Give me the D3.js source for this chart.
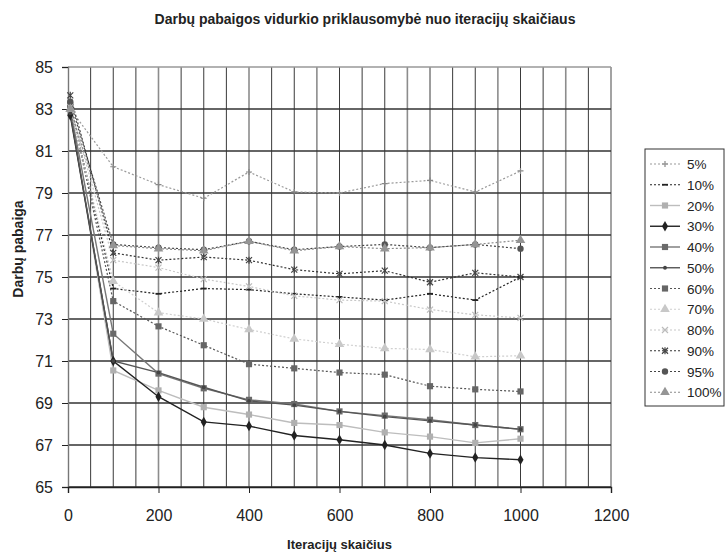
<!DOCTYPE html>
<html>
<head>
<meta charset="utf-8">
<script src="https://cdn.jsdelivr.net/npm/d3@7"></script>
<style>
  body { margin: 0; background: #fff; }
  text { font-family: "Liberation Sans", Arial, sans-serif; }
</style>
</head>
<body>
<div id="chart"></div>
<script>
// data
var iterations = [5, 100, 200, 300, 400, 500, 600, 700, 800, 900, 1000];
var labels = ["5%", "10%", "20%", "30%", "40%", "50%", "60%", "70%", "80%", "90%", "95%", "100%"];

var s5   = [83.0, 80.25, 79.4, 78.75, 80.0, 79.05, 79.0, 79.45, 79.6, 79.05, 80.05];
var s10  = [83.2, 74.45, 74.2, 74.45, 74.4, 74.2, 74.05, 73.9, 74.2, 73.9, 75.0];
var s20  = [82.9, 70.55, 69.6, 68.8, 68.45, 68.05, 67.95, 67.6, 67.4, 67.1, 67.3];
var s30  = [82.7, 71.0, 69.3, 68.1, 67.9, 67.45, 67.25, 67.0, 66.6, 66.4, 66.3];
var s40  = [83.0, 72.3, 70.4, 69.7, 69.15, 68.95, 68.6, 68.4, 68.2, 67.95, 67.75];
var s50  = [82.8, 71.0, 70.45, 69.75, 69.1, 68.9, 68.6, 68.35, 68.15, 67.95, 67.75];
var s60  = [83.2, 73.85, 72.65, 71.75, 70.85, 70.65, 70.45, 70.35, 69.8, 69.65, 69.55];
var s70  = [83.0, 74.8, 73.3, 73.0, 72.5, 72.05, 71.8, 71.6, 71.55, 71.2, 71.25];
var s80  = [83.1, 75.8, 75.45, 74.9, 74.55, 74.1, 73.9, 73.85, 73.45, 73.2, 73.05];
var s90  = [83.65, 76.15, 75.8, 75.95, 75.8, 75.35, 75.15, 75.3, 74.75, 75.2, 75.0];
var s95  = [83.35, 76.55, 76.4, 76.3, 76.7, 76.3, 76.45, 76.55, 76.4, 76.55, 76.35];
var s100 = [83.0, 76.5, 76.35, 76.25, 76.7, 76.25, 76.45, 76.35, 76.4, 76.55, 76.75];

var xTicks = [0, 200, 400, 600, 800, 1000, 1200];
var yTicks = [65, 67, 69, 71, 73, 75, 77, 79, 81, 83, 85];

// the scan shows some vertical grid lines lighter than others
var lightGrid = [200, 400, 550, 750, 950, 1100, 1200];

// line / marker styles for each series
var styles = [
  {line: "#9a9a9a", dash: "2,2", marker: "plus",     mcol: "#888"},
  {line: "#222",    dash: "2,2", marker: "dash",     mcol: "#222"},
  {line: "#bdbdbd", dash: null,  marker: "square",   mcol: "#b0b0b0"},
  {line: "#222",    dash: null,  marker: "diamond",  mcol: "#222"},
  {line: "#777",    dash: null,  marker: "square",   mcol: "#6a6a6a"},
  {line: "#555",    dash: null,  marker: "dot",      mcol: "#444"},
  {line: "#555",    dash: "2,2", marker: "square",   mcol: "#666"},
  {line: "#cfcfcf", dash: "2,2", marker: "triangle", mcol: "#c8c8c8"},
  {line: "#c8c8c8", dash: "2,2", marker: "cross",    mcol: "#bbb"},
  {line: "#333",    dash: "2,2", marker: "star",     mcol: "#444"},
  {line: "#444",    dash: "2,2", marker: "circle",   mcol: "#555"},
  {line: "#8a8a8a", dash: "2,2", marker: "triangle", mcol: "#959595"}
];
var seriesValues = [s5, s10, s20, s30, s40, s50, s60, s70, s80, s90, s95, s100];
var series = labels.map(function(l, i) {
  return {name: l, style: styles[i], values: seriesValues[i].map(function(v, j) { return {x: iterations[j], y: v}; })};
});

var margin = {top: 67, left: 68},
    width = 543,
    height = 420;

var svg = d3.select("#chart")
  .append("svg")
    .attr("width", 726)
    .attr("height", 552);

var g = svg.append("g")
  .attr("transform", "translate(" + margin.left + "," + margin.top + ")");

var x = d3.scaleLinear().domain([0, 1200]).range([0, width]);
var y = d3.scaleLinear().domain([65, 85]).range([height, 0]);

// vertical grid every 50
g.append("g")
  .selectAll("line")
  .data(d3.range(50, 1201, 50))
  .enter()
  .append("line")
    .attr("x1", function(d) { return x(d); })
    .attr("x2", function(d) { return x(d); })
    .attr("y1", 0)
    .attr("y2", height)
    .attr("stroke", function(d) { return lightGrid.indexOf(d) >= 0 ? "#8c8c8c" : "#3a3a3a"; })
    .attr("stroke-width", function(d) { return lightGrid.indexOf(d) >= 0 ? 1.6 : 1; });

// horizontal grid
g.append("g")
  .selectAll("line")
  .data(yTicks)
  .enter()
  .append("line")
    .attr("x1", 0)
    .attr("x2", width)
    .attr("y1", function(d) { return y(d); })
    .attr("y2", function(d) { return y(d); })
    .attr("stroke", function(d) { return d == 85 ? "#999" : "#333"; })
    .attr("stroke-width", 1.4);

// Y axis
var yAxis = g.append("g")
  .call(d3.axisLeft(y).tickValues(yTicks).tickSize(6).tickPadding(9).tickFormat(d3.format("d")));
yAxis.select(".domain").attr("stroke", "#777").attr("stroke-width", 1.4);

// X axis
var xAxis = g.append("g")
  .attr("transform", "translate(0," + height + ")")
  .call(d3.axisBottom(x).tickValues(xTicks).tickSize(6).tickPadding(17).tickFormat(d3.format("d")));
xAxis.select(".domain").attr("stroke", "#222").attr("stroke-width", 1.4);

svg.selectAll(".tick line").attr("stroke", "#222");
svg.selectAll(".tick text")
  .style("font-size", "16px")
  .style("font-family", "'Liberation Sans', Arial, sans-serif")
  .attr("fill", "#222");

// marker shapes
function markerPath(type) {
  if (type == "plus") return "M-3,0H3M0,-3V3";
  if (type == "dash") return "M-3,0H3";
  if (type == "cross") return "M-3,-3L3,3M-3,3L3,-3";
  if (type == "star") return "M-3,-3L3,3M-3,3L3,-3M0,-3.5V3.5";
  if (type == "square") return d3.symbol(d3.symbolSquare, 38)();
  if (type == "diamond") return d3.symbol(d3.symbolDiamond, 32)();
  if (type == "dot") return d3.symbol(d3.symbolCircle, 12)();
  if (type == "circle") return d3.symbol(d3.symbolCircle, 32)();
  if (type == "triangle") return d3.symbol(d3.symbolTriangle, 40)();
}
function isStroked(type) {
  return type == "plus" || type == "dash" || type == "cross" || type == "star";
}

var line = d3.line()
  .x(function(d) { return x(d.x); })
  .y(function(d) { return y(d.y); });

// lines
g.append("g")
  .selectAll("path")
  .data(series)
  .enter()
  .append("path")
    .attr("d", function(d) { return line(d.values); })
    .attr("fill", "none")
    .attr("stroke", function(d) { return d.style.line; })
    .attr("stroke-width", function(d) { return d.style.dash ? 1.2 : 1.4; })
    .attr("stroke-dasharray", function(d) { return d.style.dash; });

// markers
series.forEach(function(s) {
  g.append("g")
    .selectAll("path")
    .data(s.values)
    .enter()
    .append("path")
      .attr("transform", function(d) { return "translate(" + x(d.x) + "," + y(d.y) + ")"; })
      .attr("d", markerPath(s.style.marker))
      .attr("fill", isStroked(s.style.marker) ? "none" : s.style.mcol)
      .attr("stroke", isStroked(s.style.marker) ? s.style.mcol : "none")
      .attr("stroke-width", s.style.marker == "dash" ? 1.8 : 1.2);
});

// legend
var legend = svg.append("g").attr("transform", "translate(645,149)");
legend.append("rect")
  .attr("x", 0)
  .attr("y", 0)
  .attr("width", 79)
  .attr("height", 257)
  .attr("fill", "#fff")
  .attr("stroke", "#333")
  .attr("stroke-width", 1);

var items = legend.selectAll(".item")
  .data(series)
  .enter()
  .append("g")
    .attr("transform", function(d, i) { return "translate(0," + (15 + i * 20.75) + ")"; });

items.append("line")
  .attr("x1", 5)
  .attr("x2", 35)
  .attr("stroke", function(d) { return d.style.line; })
  .attr("stroke-width", function(d) { return d.style.dash ? 1.2 : 1.4; })
  .attr("stroke-dasharray", function(d) { return d.style.dash; });

items.append("path")
  .attr("transform", "translate(20,0)")
  .attr("d", function(d) { return markerPath(d.style.marker); })
  .attr("fill", function(d) { return isStroked(d.style.marker) ? "none" : d.style.mcol; })
  .attr("stroke", function(d) { return isStroked(d.style.marker) ? d.style.mcol : "none"; })
  .attr("stroke-width", function(d) { return d.style.marker == "dash" ? 1.8 : 1.2; });

items.append("text")
  .attr("x", 42)
  .attr("y", 5)
  .style("font-size", "13.5px")
  .attr("fill", "#222")
  .text(function(d) { return d.name; });

// titles
svg.append("text")
  .attr("x", 365)
  .attr("y", 24)
  .attr("text-anchor", "middle")
  .style("font-size", "14px")
  .style("font-weight", "bold")
  .attr("fill", "#222")
  .text("Darbų pabaigos vidurkio priklausomybė nuo iteracijų skaičiaus");

svg.append("text")
  .attr("x", margin.left + width / 2)
  .attr("y", 549)
  .attr("text-anchor", "middle")
  .style("font-size", "13px")
  .style("font-weight", "bold")
  .attr("fill", "#222")
  .text("Iteracijų skaičius");

svg.append("text")
  .attr("transform", "translate(23,249) rotate(-90)")
  .attr("text-anchor", "middle")
  .style("font-size", "14px")
  .style("font-weight", "bold")
  .attr("fill", "#222")
  .text("Darbų pabaiga");
</script>
</body>
</html>
